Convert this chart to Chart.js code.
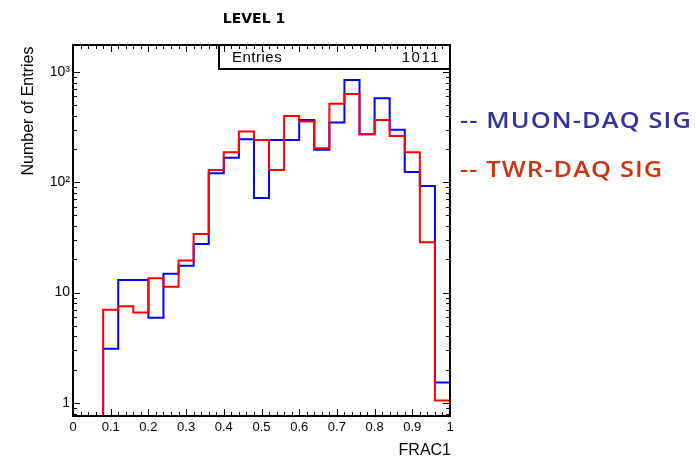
<!DOCTYPE html>
<html>
<head>
<meta charset="utf-8">
<script src="https://cdn.jsdelivr.net/npm/chart.js@4.4.1/dist/chart.umd.min.js"></script>
<style>
  html, body { margin: 0; padding: 0; background: #fff; }
  #wrap { position: relative; width: 696px; height: 457px; }
</style>
</head>
<body>
<div id="wrap"><canvas id="c" width="696" height="457"></canvas></div>
<script>
// ---- data ----
const binStart = [0.00,0.04,0.08,0.12,0.16,0.20,0.24,0.28,0.32,0.36,0.40,0.44,0.48,
                  0.52,0.56,0.60,0.64,0.68,0.72,0.76,0.80,0.84,0.88,0.92,0.96];
const binEnd = 1.0;
const muonDaqSig = [0,0,3.1,13,13,5.9,14.8,17.5,27.6,121,167,246,72,
                    242,242,368,197,348,848,273,578,299,124,92.7,1.53];
const twrDaqSig  = [0,0,7.0,7.5,6.6,13.5,11.3,19.5,34,129,187,288,242,
                    129,400,355,204,514,633,273,368,263,187,28.6,1.05];
const xTickValues = [0,0.1,0.2,0.3,0.4,0.5,0.6,0.7,0.8,0.9,1];
const yTickValues = [1,10,100,1000];
const yTickLabels = ['1','10','10\u00B2','10\u00B3'];
const seriesNames = ['-- MUON-DAQ SIG','-- TWR-DAQ SIG'];
const entries = 1011;
const yMin = 0.76, yMax = 1757;

function toSteps(vals) {
  const pts = binStart.map((x, i) => ({ x: x, y: vals[i] > 0 ? vals[i] : yMin }));
  pts.push({ x: binEnd, y: vals[vals.length - 1] > 0 ? vals[vals.length - 1] : yMin });
  return pts;
}

const decor = {
  id: 'decor',
  afterDatasetsDraw(chart) {
    const { ctx, chartArea: a, scales: { x, y } } = chart;
    ctx.save();
    ctx.strokeStyle = '#000';
    ctx.lineWidth = 1;
    ctx.beginPath();
    // x ticks (inward, bottom & top)
    for (let i = 1; i < 50; i++) {
      const px = Math.round(x.getPixelForValue(i * 0.02)) + 0.5;
      const len = (i % 5 === 0) ? 7 : 4;
      ctx.moveTo(px, a.bottom); ctx.lineTo(px, a.bottom - len);
      ctx.moveTo(px, a.top); ctx.lineTo(px, a.top + len);
    }
    // y ticks (inward, left & right)
    for (let d = 0.1; d <= 1000; d *= 10) {
      for (let m = 1; m <= 9; m++) {
        const v = m * d;
        if (v < yMin || v > yMax) continue;
        const py = Math.round(y.getPixelForValue(v)) + 0.5;
        const len = (m === 1) ? 7 : 4;
        ctx.moveTo(a.left, py); ctx.lineTo(a.left + len, py);
        ctx.moveTo(a.right, py); ctx.lineTo(a.right - len, py);
      }
    }
    ctx.stroke();
    // frame
    ctx.lineWidth = 2;
    ctx.strokeRect(a.left, a.top, a.right - a.left, a.bottom - a.top);
    // entries box
    ctx.strokeRect(219, a.top, a.right - 219, 24);
    ctx.fillStyle = '#000';
    ctx.font = '15px "Liberation Sans"';
    ctx.letterSpacing = '0.5px';
    ctx.textBaseline = 'alphabetic';
    ctx.textAlign = 'left';
    ctx.fillText('Entries', 232, 62);
    ctx.textAlign = 'right';
    ctx.letterSpacing = '1.5px';
    ctx.fillText(String(entries), 440, 62);
    ctx.letterSpacing = '0px';
    // title
    ctx.textAlign = 'center';
    ctx.font = 'bold 14px "DejaVu Sans"';
    ctx.fillText('LEVEL 1', 254, 23);
    // x title
    ctx.textAlign = 'right';
    ctx.font = '16px "Liberation Sans"';
    ctx.fillText('FRAC1', 451, 455);
    // y title
    ctx.save();
    ctx.translate(33, 111);
    ctx.rotate(-Math.PI / 2);
    ctx.textAlign = 'center';
    ctx.font = '16px "Liberation Sans"';
    ctx.fillText('Number of Entries', 0, 0);
    ctx.restore();
    // legend text (wide lettering)
    ctx.textAlign = 'left';
    ctx.font = '600 22px "Open Sans"';
    ctx.letterSpacing = '1px';
    const sx = 232 / ctx.measureText(seriesNames[0]).width;
    ctx.save();
    ctx.translate(460, 0);
    ctx.scale(sx, 1);
    ctx.fillStyle = '#333399';
    ctx.fillText(seriesNames[0], 0, 128);
    ctx.fillStyle = '#cc3311';
    ctx.fillText(seriesNames[1], 0, 177);
    ctx.restore();
    ctx.restore();
  }
};

new Chart(document.getElementById('c'), {
  type: 'line',
  data: {
    datasets: [
      { label: seriesNames[0], data: toSteps(muonDaqSig), borderColor: '#0000ff', borderWidth: 2,
        stepped: true, pointRadius: 0, fill: false, tension: 0, order: 1 },
      { label: seriesNames[1], data: toSteps(twrDaqSig), borderColor: '#ff0000', borderWidth: 2,
        stepped: true, pointRadius: 0, fill: false, tension: 0, order: 0 }
    ]
  },
  options: {
    responsive: false,
    animation: false,
    devicePixelRatio: 1,
    layout: { padding: { left: 0, right: 246, top: 45, bottom: 0 } },
    plugins: { legend: { display: false }, title: { display: false }, tooltip: { enabled: false } },
    scales: {
      x: {
        type: 'linear', min: 0, max: 1,
        afterFit: s => { s.height = 41; },
        afterBuildTicks: s => { s.ticks = xTickValues.map(v => ({ value: v })); },
        ticks: {
          autoSkip: false, maxRotation: 0, padding: 4, color: '#000',
          font: { family: 'Liberation Sans', size: 13 },
          callback: v => String(Number(v.toFixed(1)))
        },
        grid: { display: false, drawTicks: false },
        border: { display: false }
      },
      y: {
        type: 'logarithmic', min: yMin, max: yMax,
        afterFit: s => { s.width = 73; },
        afterBuildTicks: s => { s.ticks = yTickValues.map(v => ({ value: v })); },
        ticks: {
          autoSkip: false, padding: 3, color: '#000',
          font: { family: 'Liberation Sans', size: 14 },
          callback: v => yTickLabels[yTickValues.indexOf(v)]
        },
        grid: { display: false, drawTicks: false },
        border: { display: false }
      }
    }
  },
  plugins: [decor]
});
</script>
</body>
</html>
